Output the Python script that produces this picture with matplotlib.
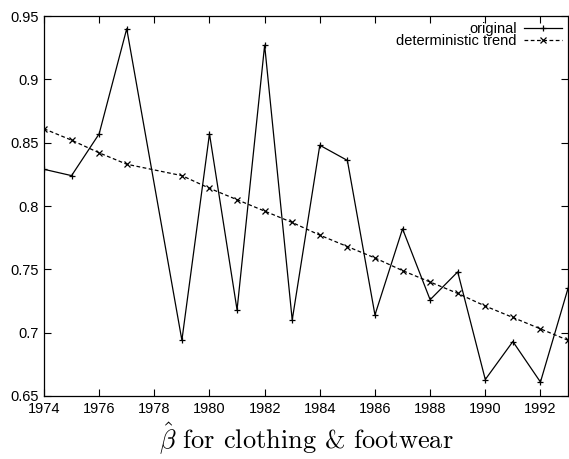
import numpy as np
import matplotlib
matplotlib.use('Agg')
import matplotlib.pyplot as plt

plt.rcParams['font.family'] = ['Liberation Sans', 'DejaVu Sans']
plt.rcParams['mathtext.fontset'] = 'cm'

# data (no value at 1978)
years = [1974, 1975, 1976, 1977, 1979, 1980, 1981, 1982, 1983, 1984,
         1985, 1986, 1987, 1988, 1989, 1990, 1991, 1992, 1993]
original = [0.829, 0.824, 0.857, 0.940, 0.694, 0.857, 0.718, 0.927, 0.710, 0.848,
            0.836, 0.714, 0.782, 0.726, 0.748, 0.663, 0.693, 0.661, 0.735]
trend = [0.861, 0.852, 0.842, 0.833, 0.824, 0.814, 0.805, 0.796, 0.787, 0.777,
         0.768, 0.759, 0.749, 0.740, 0.731, 0.721, 0.712, 0.703, 0.694]
xticks = list(range(1974, 1993, 2))
yticks = [0.65, 0.7, 0.75, 0.8, 0.85, 0.9, 0.95]

fig = plt.figure(figsize=(5.69, 4.59), dpi=100)
ax = fig.add_axes([0.0773, 0.1373, 0.9210, 0.8277])

ax.plot(years, original, '-', color='black', lw=0.9, marker='+', ms=5, mew=0.9,
        label='original')
ax.plot(years, trend, '--', color='black', lw=0.9, marker='x', ms=4, mew=0.9,
        dashes=(3, 2), label='deterministic trend')

ax.set_xlim(1974, 1993)
ax.set_ylim(0.65, 0.95)
ax.set_xticks(xticks)
ax.set_yticks(yticks)
ax.set_yticklabels(['0.65', '0.7', '0.75', '0.8', '0.85', '0.9', '0.95'])
ax.tick_params(direction='in', top=True, right=True, length=5, width=0.8,
               labelsize=10.5, pad=4)
for s in ax.spines.values():
    s.set_linewidth(0.9)

ax.set_xlabel(r'$\hat{\beta}$ for clothing & footwear', fontsize=19,
              family='serif', fontname='cmr10', labelpad=4)

leg = ax.legend(loc='upper right', frameon=False, markerfirst=False,
                fontsize=10.5, handlelength=2.6, handletextpad=0.5,
                labelspacing=-0.1, borderaxespad=0.2, borderpad=0.2)

fig.savefig('out.png', dpi=100)
